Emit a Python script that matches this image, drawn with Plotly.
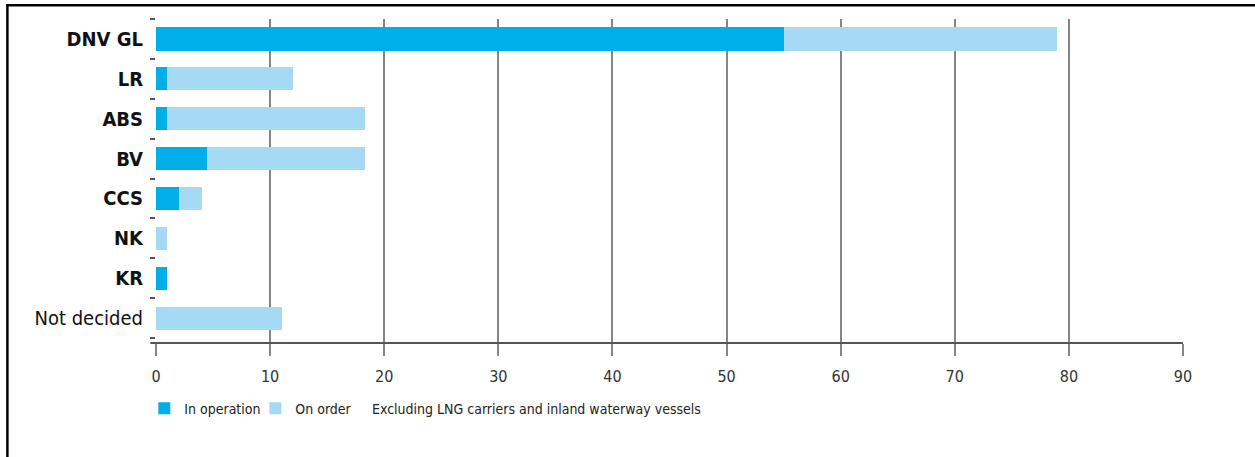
import plotly.graph_objects as go

categories = ["DNV GL", "LR", "ABS", "BV", "CCS", "NK", "KR", "Not decided"]
in_operation = [55, 1, 1, 4.5, 2, 0, 1, 0]
on_order = [24, 11, 17.3, 13.8, 2, 1, 0, 11]
x_ticks = [0, 10, 20, 30, 40, 50, 60, 70, 80, 90]
note_text = "Excluding LNG carriers and inland waterway vessels"

tick_labels = ["<b>%s</b>" % c if c != "Not decided" else c for c in categories]

W, H = 1255, 457
L, R, T, B = 155.7, 1183.3, 18.7, 343.3
NARROW = "Liberation Sans Narrow, Arial Narrow, DejaVu Sans Condensed, sans-serif"

def px(x):
    return (x - L) / (R - L)

def py(y):
    return (B - y) / (B - T)

fig = go.Figure()
fig.add_trace(go.Bar(y=categories, x=in_operation, orientation="h", name="In operation",
                     marker=dict(color="#00AEE8", line=dict(width=0))))
fig.add_trace(go.Bar(y=categories, x=on_order, orientation="h", name="On order",
                     marker=dict(color="#A5D9F4", line=dict(width=0))))

shapes = [
    # outer frame (top & left)
    dict(type="line", xref="paper", yref="paper", x0=px(6), x1=px(W + 5), y0=py(5), y1=py(5),
         line=dict(color="black", width=2.5)),
    dict(type="line", xref="paper", yref="paper", x0=px(7), x1=px(7), y0=py(4), y1=py(H + 5),
         line=dict(color="black", width=2.5)),
    # x axis line extension to the left
    dict(type="line", xref="paper", yref="paper", x0=px(150), x1=1, y0=0, y1=0,
         line=dict(color="#555555", width=2)),
]

fig.update_layout(
    width=W, height=H,
    margin=dict(l=L, r=W - R, t=T, b=H - B, pad=0),
    paper_bgcolor="white", plot_bgcolor="white",
    barmode="stack", bargap=0.42,
    showlegend=True,
    legend=dict(orientation="h", x=px(144), xanchor="left", y=py(409), yanchor="middle",
                font=dict(family=NARROW, size=14, color="#222222"),
                traceorder="normal", itemwidth=30, entrywidth=66, entrywidthmode="pixels",
                bgcolor="rgba(0,0,0,0)", tracegroupgap=0, borderwidth=0),
    shapes=shapes,
    annotations=[dict(text=note_text, xref="paper", yref="paper", x=px(370), y=py(409),
                      xanchor="left", yanchor="middle", showarrow=False,
                      font=dict(family=NARROW, size=14, color="#222222"))],
    xaxis=dict(range=[0, 90], tickmode="array", tickvals=x_ticks, ticktext=[str(v) for v in x_ticks],
               showgrid=True, gridcolor="#858585", gridwidth=1.5,
               zeroline=False, showline=False,
               ticks="outside", ticklen=12, tickwidth=1.5, tickcolor="#858585",
               tickfont=dict(family=NARROW, size=16, color="#333333"), ticklabelstandoff=7),
    yaxis=dict(type="category", categoryorder="array", categoryarray=categories,
               range=[len(categories) - 0.5 + 5 / 40, -0.5],
               tickmode="array", tickvals=categories, ticktext=tick_labels,
               tickson="boundaries", ticks="outside", ticklen=5, tickwidth=1.5, tickcolor="#555555",
               showgrid=False, zeroline=False, showline=False,
               tickfont=dict(family=NARROW, size=20, color="#111111"), ticklabelstandoff=12),
    font=dict(family=NARROW),
)

fig.write_html("out.html")
